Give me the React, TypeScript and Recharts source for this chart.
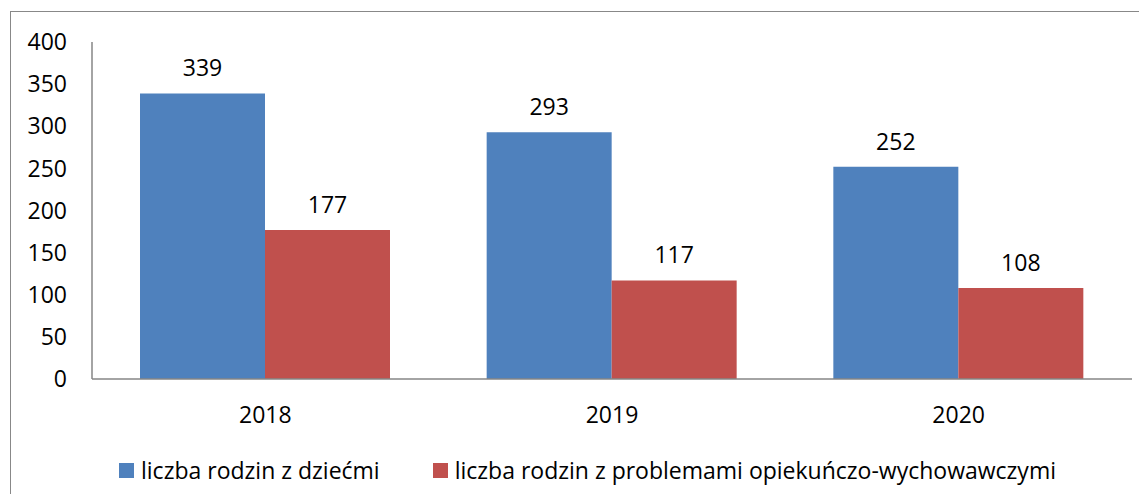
import { Bar, BarChart, LabelList, Legend, XAxis, YAxis } from 'recharts';

const years = ['2018', '2019', '2020'];
const rodzinyZDziecmi = [339, 293, 252];
const rodzinyZProblemami = [177, 117, 108];
const yTicks = [0, 50, 100, 150, 200, 250, 300, 350, 400];

const SERIES = [
  { key: 'dzieci', name: 'liczba rodzin z dziećmi', color: '#4F81BD' },
  { key: 'problemy', name: 'liczba rodzin z problemami opiekuńczo-wychowawczymi', color: '#C0504D' }
];

const chartData = years.map((year, i) => ({
  year,
  dzieci: rodzinyZDziecmi[i],
  problemy: rodzinyZProblemami[i]
}));

const FONT = '"Open Sans", sans-serif';
const AXIS_COLOR = '#868686';

const LegendBox = () => (
  <div
    style={{
      height: 40,
      display: 'flex',
      alignItems: 'center',
      paddingLeft: 119,
      fontFamily: FONT,
      fontSize: 23,
      color: '#000'
    }}
  >
    {SERIES.map((s, i) => (
      <div key={s.key} style={{ display: 'flex', alignItems: 'center', marginLeft: i === 0 ? 0 : 53 }}>
        <span style={{ width: 15, height: 15, background: s.color, marginRight: 7, display: 'inline-block' }} />
        <span>{s.name}</span>
      </div>
    ))}
  </div>
);

export default function App() {
  return (
    <div style={{ position: 'relative', width: 1131, height: 486, overflow: 'hidden' }}>
      <div
        style={{
          position: 'absolute',
          left: 2,
          top: 3,
          width: 2000,
          height: 2000,
          border: '1px solid #888888'
        }}
      />
      <div style={{ position: 'absolute', left: -8, top: -8 }}>
        <BarChart
          width={1147}
          height={502}
          data={chartData}
          margin={{ top: 42, right: 15, left: 0, bottom: 12 }}
          barCategoryGap={48}
          barGap={0}
        >
          <XAxis
            dataKey="year"
            height={71}
            axisLine={{ stroke: AXIS_COLOR, strokeWidth: 1.5 }}
            tickLine={false}
            tickSize={0}
            tickMargin={28}
            tick={{ fill: '#000', fontSize: 23, fontFamily: FONT }}
          />
          <YAxis
            width={92}
            domain={[0, 400]}
            ticks={yTicks}
            interval={0}
            axisLine={{ stroke: AXIS_COLOR, strokeWidth: 1.5 }}
            tickLine={false}
            tickSize={0}
            tickMargin={25}
            tick={{ fill: '#000', fontSize: 23, fontFamily: FONT }}
          />
          <Legend verticalAlign="bottom" content={() => <LegendBox />} />
          {SERIES.map((s) => (
            <Bar key={s.key} dataKey={s.key} name={s.name} fill={s.color} isAnimationActive={false}>
              <LabelList
                dataKey={s.key}
                position="top"
                offset={17}
                style={{ fill: '#000', fontSize: 23, fontFamily: FONT }}
              />
            </Bar>
          ))}
        </BarChart>
      </div>
    </div>
  );
}
